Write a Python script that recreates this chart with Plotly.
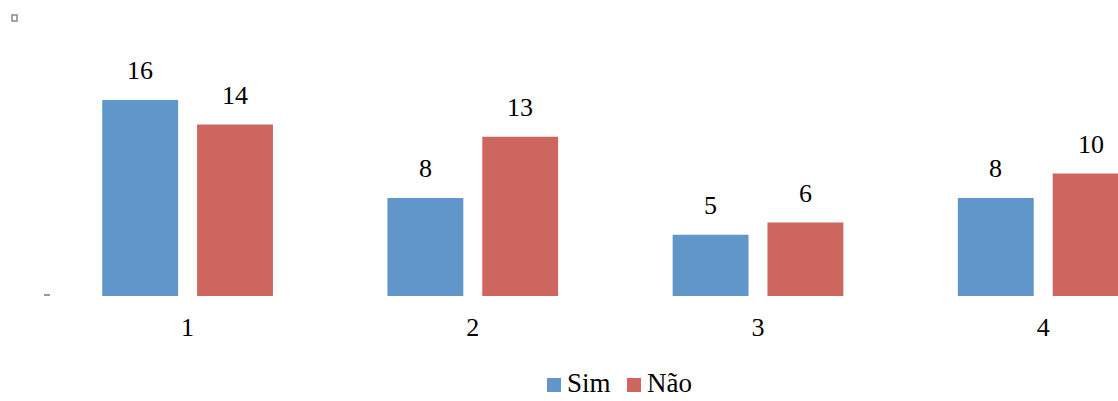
import plotly.graph_objects as go

categories = [1, 2, 3, 4]
cat_labels = ["1", "2", "3", "4"]
series_names = ["Sim", "Não"]
sim = [16, 8, 5, 8]
nao = [14, 13, 6, 10]
colors = ["#6096C9", "#CC665F"]

W, H = 1118, 401
ml, mr, mt, mb = 45, 0, 30, 0
base_y = 296          # pixel row of the bar baseline
px_per_unit = 12.25
font = "Liberation Serif"
fs = 26

paper_h = H - mt - mb
plot_w = W - ml - mr
dom0 = (H - base_y) / paper_h


def px(x):
    return (x - ml) / plot_w


def py(y):
    return (H - mb - y) / paper_h


fig = go.Figure()
for name, vals, col in zip(series_names, (sim, nao), colors):
    fig.add_trace(go.Bar(x=categories, y=vals, name=name, showlegend=False,
                         marker=dict(color=col, line=dict(width=0))))

ann = []
for i, c in enumerate(categories):
    for off, vals in ((-0.1665, sim), (0.1665, nao)):
        ann.append(dict(x=c + off, y=vals[i], text=str(vals[i]), showarrow=False,
                        xref="x", yref="y", yanchor="bottom", yshift=13,
                        font=dict(family=font, size=fs, color="#000")))

# legend drawn as swatches + text
shapes = []
leg_x = [547, 627]
for name, col, lx in zip(series_names, colors, leg_x):
    shapes.append(dict(type="rect", xref="paper", yref="paper",
                       x0=px(lx), x1=px(lx + 14), y0=py(392), y1=py(378),
                       fillcolor=col, line=dict(width=0)))
    ann.append(dict(x=px(lx + 18), y=0, xref="paper", yref="paper", text=name,
                    showarrow=False, xanchor="left", yanchor="bottom", yshift=1,
                    font=dict(family=font, size=fs + 1, color="#000")))

shapes += [
    dict(type="line", xref="paper", yref="paper", x0=px(44), x1=px(50),
         y0=py(295), y1=py(295), line=dict(color="#999", width=2)),
    dict(type="rect", xref="paper", yref="paper",
         x0=px(12), x1=px(17), y0=py(21), y1=py(15),
         line=dict(color="#888", width=1.5)),
]

span = plot_w / 285.2
fig.update_layout(
    width=W, height=H,
    margin=dict(l=ml, r=mr, t=mt, b=mb),
    paper_bgcolor="white", plot_bgcolor="white",
    barmode="group", bargap=0.335, bargroupgap=0.2,
    font=dict(family=font, size=fs, color="#000"),
    xaxis=dict(range=[0.5, 0.5 + span], tickvals=categories, ticktext=cat_labels,
               showgrid=False, zeroline=False, showline=False, automargin=False,
               ticks="outside", ticklen=8, tickcolor="rgba(0,0,0,0)",
               tickfont=dict(family=font, size=fs, color="#000")),
    yaxis=dict(domain=[dom0, 1], range=[0, (base_y - mt) / px_per_unit], showgrid=False,
               zeroline=False, showline=False, showticklabels=False),
    showlegend=False,
    annotations=ann,
    shapes=shapes,
)
fig.write_html("out.html")
